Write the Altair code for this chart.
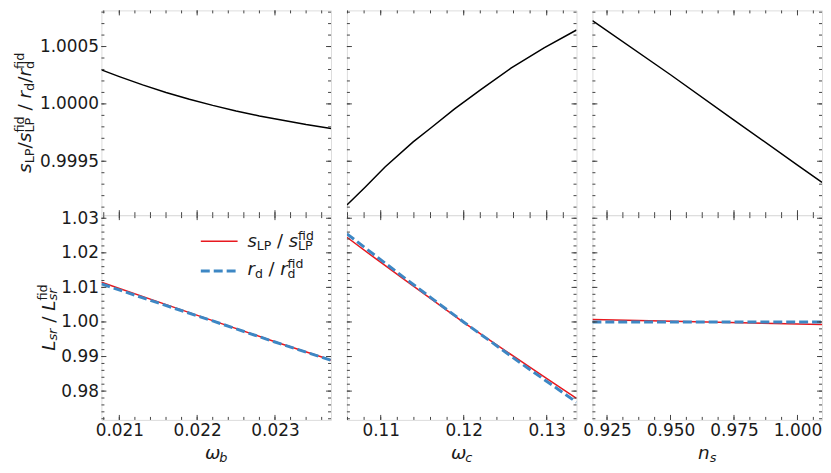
import math
import altair as alt
import pandas as pd

FONT = "DejaVu Sans"
TXT = "#1a1a1a"
FRAME = "#444444"
RED = "#e8191f"
BLUE = "#3d87c4"
BLACK = "#000000"

# ---------------- data ----------------
# top row: (s_LP/s_LP^fid) / (r_d/r_d^fid)
wb_x = [0.02077, 0.0210, 0.0213, 0.0216, 0.0219, 0.0222, 0.0225, 0.0228, 0.0231, 0.0234, 0.02372]
wb_ratio = [1.000297, 1.000238, 1.000166, 1.000100, 1.000041, 0.999987, 0.999938, 0.999895,
            0.999858, 0.999820, 0.999786]
wc_x = [0.10593, 0.10812, 0.11052, 0.11391, 0.11611, 0.11890, 0.12210, 0.12569, 0.12968, 0.13359]
wc_ratio = [0.999119, 0.999274, 0.999450, 0.999669, 0.999794, 0.999957, 1.000126, 1.000311,
            1.000488, 1.000644]
ns_x = [0.91925, 0.950, 0.975, 1.000, 1.00966]
ns_ratio = [1.000725, 1.000254, 0.999859, 0.999466, 0.999315]

# bottom row: L_sr / L_sr^fid
wb_lx = [0.02077, 0.0215, 0.0222, 0.0230, 0.02372]
wb_slp = [1.0115, 1.0058, 1.0004, 0.9943, 0.9890]
wb_rd = [1.0110, 1.0055, 1.0003, 0.9942, 0.9889]
wc_lx = [0.10593, 0.1094, 0.1129, 0.1164, 0.11998, 0.1234, 0.1268, 0.1302, 0.13359]
wc_slp = [1.0245, 1.0183, 1.0122, 1.0061, 0.9999, 0.9943, 0.9888, 0.9833, 0.9779]
wc_rd = [1.0255, 1.0191, 1.0127, 1.0064, 1.0000, 0.9941, 0.9882, 0.9825, 0.9768]
ns_lx = [0.91925, 0.9645, 1.00966]
ns_slp = [1.0007, 0.99998, 0.99925]
ns_rd = [1.0000, 1.0000, 1.0000]

# axes
wb_dom = [0.02077, 0.02372]
wc_dom = [0.10593, 0.13359]
ns_dom = [0.91925, 1.00966]
top_dom = [0.99903, 1.000815]
bot_dom = [0.97167, 1.0309]

wb_ticks = [0.021, 0.022, 0.023]
wc_ticks = [0.11, 0.12, 0.13]
ns_ticks = [0.925, 0.950, 0.975, 1.000]
top_ticks = [0.9995, 1.0000, 1.0005]
bot_ticks = [0.98, 0.99, 1.00, 1.01, 1.02, 1.03]
wb_minor_step = 0.0002
wc_minor_step = 0.002
ns_minor_step = 0.00625
top_minor_step = 0.0001
bot_minor_step = 0.002

W, H = 231, 206
TICK_FS = 17
LABEL_FS = 18.5
LEG_FS = 18

# ---------------- helpers ----------------
EM = {'0': .636, '1': .636, '2': .636, '3': .636, '4': .636, '5': .636, '6': .636,
      '7': .636, '8': .636, '9': .636, '.': .318, ' ': .318, '/': .337, 's': .521,
      'L': .557, 'P': .603, 'f': .352, 'i': .278, 'd': .635, 'r': .411, 'b': .635,
      'c': .550, 'n': .634, 'ω': .781}


def tw(s, size):
    return sum(EM.get(c, 0.6) for c in s) * size


def minor(dom, step):
    lo = math.ceil(dom[0] / step - 1e-9)
    hi = math.floor(dom[1] / step + 1e-9)
    return [round(k * step, 9) for k in range(lo, hi + 1)]


ONE = pd.DataFrame({'a': [0]})


def math_text(tokens, F, x0, y0, rotate=False, center=True):
    """tokens: list of (base, base_italic, sub, sub_italic, sup, sup_italic)."""
    S = 0.7 * F
    pieces = []
    adv = 0.0
    for base, bit, sub, sit, sup, pit in tokens:
        if base:
            lead = len(base) - len(base.lstrip(' '))
            core = base.strip(' ')
            trail = len(base) - lead - len(core)
            adv += tw(' ' * lead, F)
            if core:
                pieces.append((core, bit, F, adv, 0.0))
                adv += tw(core, F)
            adv += tw(' ' * trail, F)
        w = 0.0
        if sub:
            pieces.append((sub, sit, S, adv, 0.15 * F))
            w = max(w, tw(sub, S))
        if sup:
            pieces.append((sup, pit, S, adv, -0.4 * F))
            w = max(w, tw(sup, S))
        adv += w
    start = -adv / 2 if center else 0.0
    layers = []
    for txt, it, size, a, p in pieces:
        if rotate:
            px, py, ang = x0 + p, y0 - (start + a), 270
        else:
            px, py, ang = x0 + start + a, y0 + p, 0
        layers.append(
            alt.Chart(ONE).mark_text(
                text=txt, font=FONT, fontSize=size,
                fontStyle='italic' if it else 'normal',
                align='left', baseline='alphabetic', angle=ang, color=TXT
            ).encode(x=alt.value(px), y=alt.value(py))
        )
    return layers


def panel(x_dom, y_dom, series, xmaj, xstep, ymaj, ystep, xfmt, yfmt,
          show_x, show_y, extra=()):
    xs = alt.Scale(domain=x_dom, nice=False, zero=False)
    ys = alt.Scale(domain=y_dom, nice=False, zero=False)
    common = dict(title=None, ticks=False, tickSize=0, domain=False, grid=False,
                  labelFont=FONT, labelFontSize=TICK_FS, labelColor=TXT,
                  labelFlush=False, labelOverlap=False)
    xaxis = alt.Axis(values=xmaj, format=xfmt, labelPadding=3, orient='bottom', **common) if show_x else None
    yaxis = alt.Axis(values=ymaj, format=yfmt, labelPadding=3, orient='left', **common) if show_y else None
    layers = []
    for xv, yv, color, sw, dash in series:
        df = pd.DataFrame({'x': xv, 'y': yv})
        mk = dict(color=color, strokeWidth=sw, clip=True)
        if dash:
            mk['strokeDash'] = dash
        layers.append(
            alt.Chart(df).mark_line(**mk).encode(
                x=alt.X('x:Q', scale=xs, axis=xaxis),
                y=alt.Y('y:Q', scale=ys, axis=yaxis),
            )
        )
    # inward ticks on all four sides
    for vals, L in [(minor(x_dom, xstep), 3), (xmaj, 5)]:
        df = pd.DataFrame({'x': vals})
        for y1, y2 in [(H, H - L), (0, L)]:
            layers.append(alt.Chart(df).mark_rule(color=FRAME, strokeWidth=1).encode(
                x=alt.X('x:Q', scale=xs, axis=xaxis), y=alt.value(y1), y2=alt.value(y2)))
    for vals, L in [(minor(y_dom, ystep), 3), (ymaj, 5)]:
        df = pd.DataFrame({'y': vals})
        for x1, x2 in [(0, L), (W, W - L)]:
            layers.append(alt.Chart(df).mark_rule(color=FRAME, strokeWidth=1).encode(
                y=alt.Y('y:Q', scale=ys, axis=yaxis), x=alt.value(x1), x2=alt.value(x2)))
    layers.extend(extra)
    return alt.layer(*layers).properties(width=W, height=H)


# ---------------- texts ----------------
top_ylabel = math_text(
    [('s', True, 'LP', False, None, False),
     ('/', False, None, False, None, False),
     ('s', True, 'LP', False, 'fid', False),
     (' / ', False, None, False, None, False),
     ('r', True, 'd', False, None, False),
     ('/', False, None, False, None, False),
     ('r', True, 'd', False, 'fid', False)],
    LABEL_FS, -71, H / 2, rotate=True)

bot_ylabel = math_text(
    [('L', True, 'sr', True, None, False),
     (' / ', False, None, False, None, False),
     ('L', True, 'sr', True, 'fid', False)],
    LABEL_FS, -47, H / 2, rotate=True)

xlab_wb = math_text([('ω', True, 'b', True, None, False)], LABEL_FS, W / 2, H + 39.3)
xlab_wc = math_text([('ω', True, 'c', True, None, False)], LABEL_FS, W / 2, H + 39.3)
xlab_ns = math_text([('n', True, 's', True, None, False)], LABEL_FS, W / 2, H + 39.3)

legend = [
    alt.Chart(ONE).mark_rule(color=RED, strokeWidth=1.5).encode(
        x=alt.value(100), x2=alt.value(137), y=alt.value(26.3)),
    alt.Chart(ONE).mark_rule(color=BLUE, strokeWidth=3, strokeDash=[9, 4]).encode(
        x=alt.value(100), x2=alt.value(136), y=alt.value(56.3)),
]
legend += math_text([('s', True, 'LP', False, None, False),
                     (' / ', False, None, False, None, False),
                     ('s', True, 'LP', False, 'fid', False)],
                    LEG_FS, 147, 32.3, center=False)
legend += math_text([('r', True, 'd', False, None, False),
                     (' / ', False, None, False, None, False),
                     ('r', True, 'd', False, 'fid', False)],
                    LEG_FS, 147, 60.7, center=False)

# ---------------- panels ----------------
p1t = panel(wb_dom, top_dom, [(wb_x, wb_ratio, BLACK, 1.5, None)],
            wb_ticks, wb_minor_step, top_ticks, top_minor_step, '.3f', '.4f',
            False, True, top_ylabel)
p2t = panel(wc_dom, top_dom, [(wc_x, wc_ratio, BLACK, 1.5, None)],
            wc_ticks, wc_minor_step, top_ticks, top_minor_step, '.2f', '.4f',
            False, False)
p3t = panel(ns_dom, top_dom, [(ns_x, ns_ratio, BLACK, 1.5, None)],
            ns_ticks, ns_minor_step, top_ticks, top_minor_step, '.3f', '.4f',
            False, False)

p1b = panel(wb_dom, bot_dom,
            [(wb_lx, wb_slp, RED, 1.5, None), (wb_lx, wb_rd, BLUE, 3, [9, 4])],
            wb_ticks, wb_minor_step, bot_ticks, bot_minor_step, '.3f', '.2f',
            True, True, bot_ylabel + xlab_wb + legend)
p2b = panel(wc_dom, bot_dom,
            [(wc_lx, wc_slp, RED, 1.5, None), (wc_lx, wc_rd, BLUE, 3, [9, 4])],
            wc_ticks, wc_minor_step, bot_ticks, bot_minor_step, '.2f', '.2f',
            True, False, xlab_wc)
p3b = panel(ns_dom, bot_dom,
            [(ns_lx, ns_slp, RED, 1.5, None), (ns_lx, ns_rd, BLUE, 3, [9, 4])],
            ns_ticks, ns_minor_step, bot_ticks, bot_minor_step, '.3f', '.2f',
            True, False, xlab_ns)

chart = alt.concat(p1t, p2t, p3t, p1b, p2b, p3b, columns=3,
                   spacing={"row": 0, "column": 16}, bounds='flush').properties(
    padding={"left": 5, "top": 0, "right": 0, "bottom": 5}
).configure_view(stroke=FRAME, strokeWidth=1).configure(background='white')

chart.save("out.html", embed_options={"renderer": "svg", "actions": False})
